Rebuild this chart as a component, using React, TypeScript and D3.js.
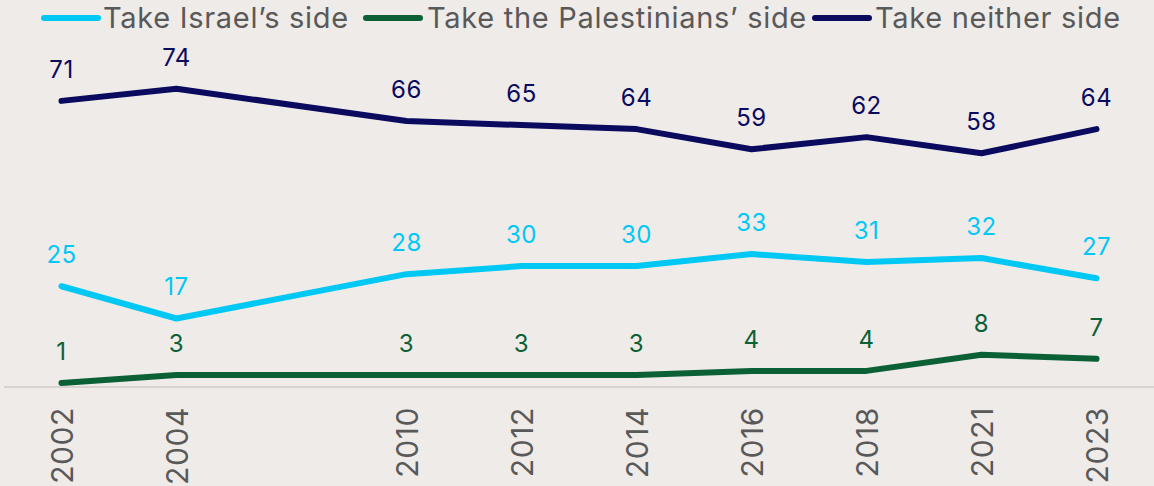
import React from 'react';
import * as d3 from 'd3';

// slot keys; "gap" is the empty column between 2004 and 2010
const slots = ['2002', '2004', 'gap', '2010', '2012', '2014', '2016', '2018', '2021', '2023'];
const years = ['2002', '2004', '2010', '2012', '2014', '2016', '2018', '2021', '2023'];

const israelSide = [25, 17, 28, 30, 30, 33, 31, 32, 27];
const palestinianSide = [1, 3, 3, 3, 3, 4, 4, 8, 7];
const neitherSide = [71, 74, 66, 65, 64, 59, 62, 58, 64];

const seriesNames = ["Take Israel\u2019s side", "Take the Palestinians\u2019 side", 'Take neither side'];
const seriesColors = ['#00c8f5', '#0b6036', '#0a0a5e'];

const width = 1154;
const height = 486;
const font = "Inter, 'DejaVu Sans', sans-serif";

const App = () => {
  const x = d3.scaleBand().domain(slots).range([4, 1154]);
  const y = d3.scaleLinear().domain([0, 80]).range([387, 64.6]);
  const cx = (yr: string) => (x(yr) as number) + x.bandwidth() / 2;

  const line = d3.line<{ year: string; v: number }>()
    .x(d => cx(d.year))
    .y(d => y(d.v));

  const series = [israelSide, palestinianSide, neitherSide].map((vals, i) => ({
    name: seriesNames[i],
    color: seriesColors[i],
    points: years.map((year, j) => ({ year, v: vals[j] })),
  }));

  // legend layout
  const legendItems = [
    { x0: 44, tx: 103 },
    { x0: 366, tx: 427 },
    { x0: 815, tx: 875 },
  ];

  return (
    <svg width={width} height={height} style={{ position: 'absolute', left: 0, top: 0, background: '#efebe8' }}>
      <rect width={width} height={height} fill="#efebe8" />

      {/* baseline */}
      <line x1={4} x2={1154} y1={y(0)} y2={y(0)} stroke="#d6d3d0" strokeWidth={2} />

      {/* x tick labels, rotated */}
      {years.map(yr => (
        <text
          key={yr}
          transform={`translate(${cx(yr) + 11},${y(0) + 20}) rotate(-90)`}
          textAnchor="end"
          fontFamily={font}
          fontSize={30}
          letterSpacing={0.6}
          fill="#595959"
        >
          {yr}
        </text>
      ))}

      {series.map(s => (
        <g key={s.name}>
          <path d={line(s.points) || ''} fill="none" stroke={s.color} strokeWidth={6} strokeLinecap="round" strokeLinejoin="round" />
          {s.points.map(p => (
            <text
              key={p.year}
              x={cx(p.year)}
              y={y(p.v) - 23}
              textAnchor="middle"
              fontFamily={font}
              fontSize={24}
              letterSpacing={0.5}
              fill={s.color}
            >
              {p.v}
            </text>
          ))}
        </g>
      ))}

      {/* legend */}
      {series.map((s, i) => (
        <g key={'lg' + i}>
          <line x1={legendItems[i].x0} x2={legendItems[i].x0 + 54} y1={18} y2={18} stroke={s.color} strokeWidth={6} strokeLinecap="round" />
          <text x={legendItems[i].tx} y={27.5} fontFamily={font} fontSize={29} letterSpacing={0.7} fill="#595959">
            {s.name}
          </text>
        </g>
      ))}
    </svg>
  );
};

export default App;
